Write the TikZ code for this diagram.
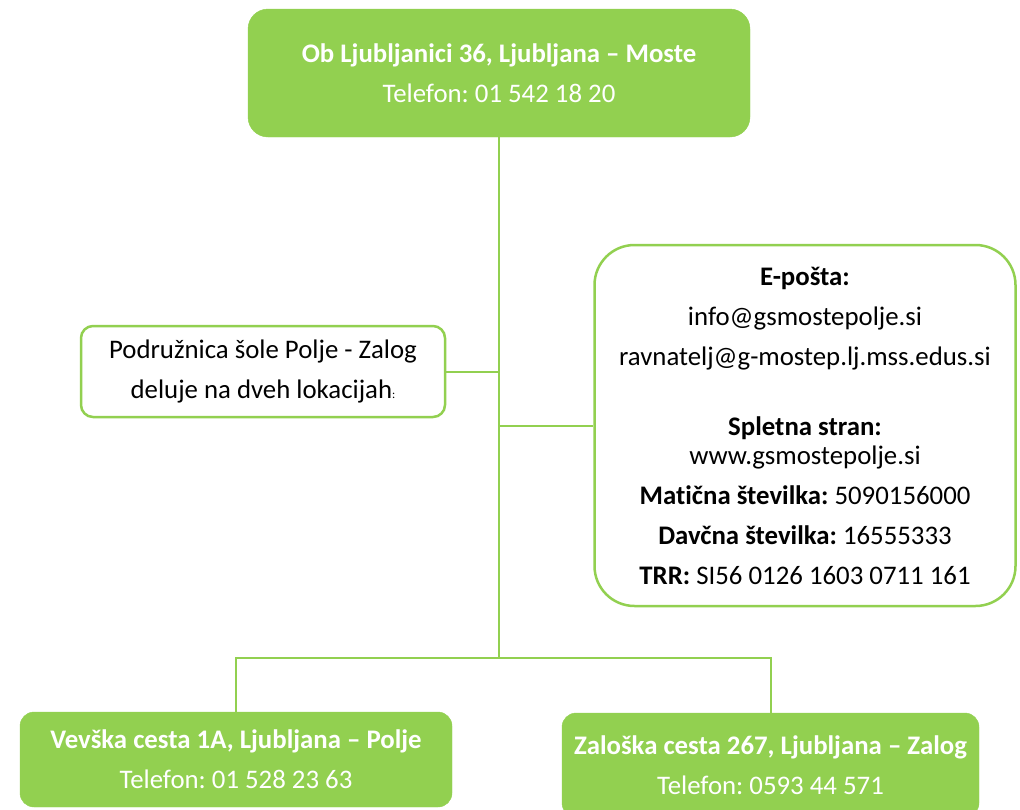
\documentclass[tikz,border=0pt]{standalone}
\usepackage{fontspec}
\setmainfont[Ligatures=NoCommon]{Carlito}
\definecolor{lgreen}{HTML}{92D050}
\frenchspacing
\begin{document}
\begin{tikzpicture}[x=1pt,y=-1pt,
  fillbox/.style={fill=lgreen,draw=lgreen,rounded corners=20pt,text=white,align=center,inner sep=0pt,
     font=\fontsize{26.8}{40}\selectfont},
  linebox/.style={fill=white,draw=lgreen,line width=2.5pt,align=center,inner sep=0pt,
     font=\fontsize{26.8}{40}\selectfont},
  conn/.style={draw=lgreen,line width=2pt}]
\clip (0,0) rectangle (1020,809);
\node[fillbox,minimum width=502pt,minimum height=128pt] (top) at (499,73)
  {\textbf{Ob Ljubljanici 36, Ljubljana – Moste}\\Telefon: 01 542 18 20};
\node[linebox,rounded corners=12pt,minimum width=364pt,minimum height=91pt] (branch) at (263,371.5)
  {Podružnica šole Polje - Zalog\\deluje na dveh lokacijah{\fontsize{12}{12}\selectfont:}};
\node[linebox,rounded corners=40pt,minimum width=421pt,minimum height=361pt] (info) at (805,425.5)
  {\textbf{E-pošta:}\\info@gsmostepolje.si\\ravnatelj@g-mostep.lj.mss.edus.si\\[30pt]
   \textbf{Spletna stran:}\\[-11pt]www.gsmostepolje.si\\
   \textbf{Matična številka:} 5090156000\\\textbf{Davčna številka:} 16555333\\
   \textbf{TRR:} SI56 0126 1603 0711 161};
\node[fillbox,rounded corners=14pt,minimum width=432pt,minimum height=95pt] (polje) at (236,759.5)
  {\textbf{Vevška cesta 1A, Ljubljana – Polje}\\Telefon: 01 528 23 63};
\node[fillbox,rounded corners=14pt,minimum width=417pt,minimum height=104pt] (zalog) at (770.5,765)
  {\textbf{Zaloška cesta 267, Ljubljana – Zalog}\\Telefon: 0593 44 571};
\coordinate (fork) at (top.south |- 0,658);
\draw[conn] (top.south) -- (fork);
\draw[conn] (branch.east) -- (branch.east -| top.south);
\draw[conn] (top.south |- 0,426) -- (info.west |- 0,426);
\draw[conn] (polje.north) -- (polje.north |- fork) -- (zalog.north |- fork) -- (zalog.north);
\end{tikzpicture}
\end{document}
